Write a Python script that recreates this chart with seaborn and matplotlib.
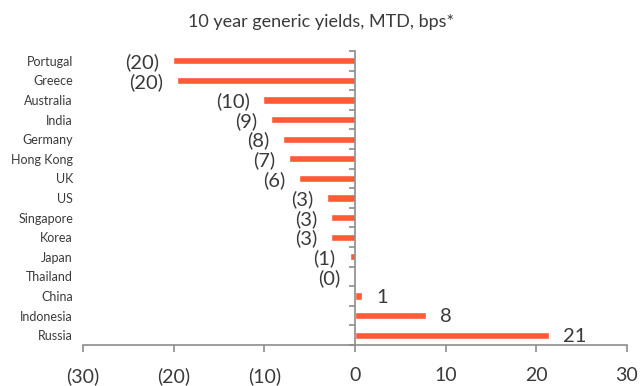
import pandas as pd
import numpy as np
import matplotlib.pyplot as plt
import matplotlib.ticker as mticker
import seaborn as sns

sns.set_style("white")
plt.rcParams['font.family'] = ['Lato', 'DejaVu Sans']

# Data (bps, month to date)
countries = ['Portugal', 'Greece', 'Australia', 'India', 'Germany', 'Hong Kong', 'UK', 'US',
             'Singapore', 'Korea', 'Japan', 'Thailand', 'China', 'Indonesia', 'Russia']
changes = [-20.1, -19.6, -10.1, -9.3, -7.9, -7.3, -6.2, -3.1,
           -2.65, -2.65, -0.6, -0.1, 0.8, 7.8, 21.4]

df = pd.DataFrame({'Country': countries, 'Change': changes})

bar_color = '#FF5A36'
axis_gray = '#8c8c8c'
text_color = '#3a3a3a'

fig = plt.figure(figsize=(6.43, 3.86), dpi=100)
ax = fig.add_axes([83 / 643, 1 - 345 / 386, 544 / 643, 294 / 386])

sns.barplot(data=df, x='Change', y='Country', orient='h', color=bar_color,
            width=0.36, saturation=1, ax=ax)

ax.set_xlim(-30, 30)
ax.set_ylim(len(countries) - 0.5, -0.5)
ax.set_xlabel('')
ax.set_ylabel('')


def paren(v, pos=None):
    return f'({abs(v):.0f})' if v < 0 else f'{v:.0f}'


ax.xaxis.set_major_locator(mticker.MultipleLocator(10))
ax.xaxis.set_major_formatter(mticker.FuncFormatter(paren))
ax.tick_params(axis='x', bottom=True, direction='out', length=5, width=1.2,
               color=axis_gray, labelsize=14, labelcolor=text_color, pad=11)

# zero line carries the category separators; names sit on the far left
ax.spines['left'].set_position(('data', 0))
ax.spines['left'].set_color(axis_gray)
ax.spines['bottom'].set_color(axis_gray)
ax.spines['left'].set_linewidth(1.2)
ax.spines['bottom'].set_linewidth(1.2)
ax.spines['top'].set_visible(False)
ax.spines['right'].set_visible(False)
ax.set_yticks(np.arange(len(countries)))
ax.set_yticklabels(countries)
ax.set_yticks(np.arange(len(countries) + 1) - 0.5, minor=True)
ax.tick_params(axis='y', which='major', left=True, length=0, pad=203, labelsize=9,
               labelcolor=text_color)
ax.tick_params(axis='y', which='minor', left=True, direction='out', length=4,
               width=1.2, color=axis_gray)

# value labels at bar ends
for i, v in enumerate(changes):
    if v < 0:
        ax.annotate(paren(v), (v, i), xytext=(-10, -1), textcoords='offset points',
                    ha='right', va='center', fontsize=14.5, color=text_color)
    else:
        ax.annotate(paren(v), (v, i), xytext=(10, -1), textcoords='offset points',
                    ha='left', va='center', fontsize=14.5, color=text_color)

fig.text(0.5, 1 - 22 / 386, '10 year generic yields, MTD, bps*', ha='center',
         va='center', fontsize=13, color=text_color)

fig.savefig('out.png', dpi=100)
